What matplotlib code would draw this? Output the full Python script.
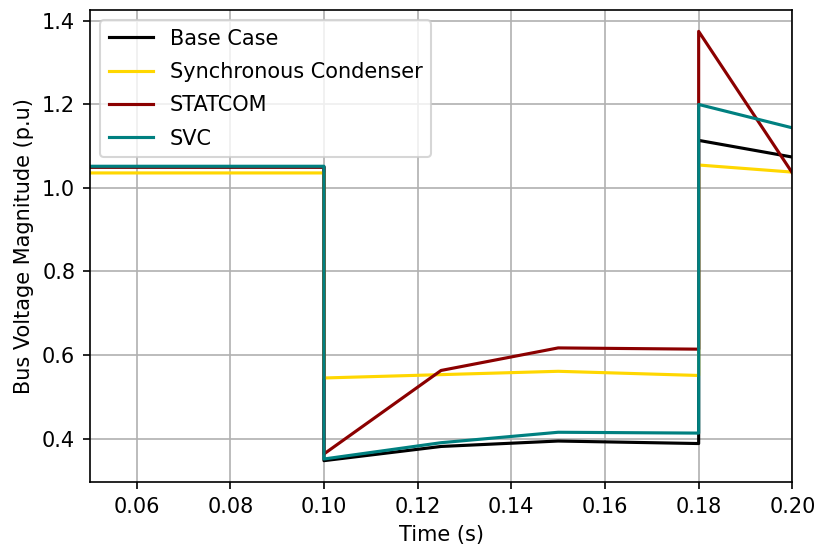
import matplotlib
matplotlib.use("Agg")
import matplotlib.pyplot as plt

# Sample instants (fault applied at 0.10 s, cleared at 0.18 s)
time = [0.05, 0.10, 0.10, 0.125, 0.15, 0.18, 0.18, 0.20]

base_case = [1.050, 1.050, 0.347, 0.381, 0.394, 0.388, 1.114, 1.074]
sync_condenser = [1.036, 1.036, 0.545, 0.553, 0.561, 0.551, 1.055, 1.038]
statcom = [1.050, 1.050, 0.363, 0.563, 0.617, 0.614, 1.375, 1.036]
svc = [1.052, 1.052, 0.351, 0.390, 0.415, 0.413, 1.200, 1.144]

series = [
    ("Base Case", base_case, "black"),
    ("Synchronous Condenser", sync_condenser, "gold"),
    ("STATCOM", statcom, "darkred"),
    ("SVC", svc, "teal"),
]

DPI = 150
fig = plt.figure(figsize=(816 / DPI, 551 / DPI), dpi=DPI)
ax = fig.add_subplot(111)
fig.subplots_adjust(left=0.110, right=0.971, top=0.982, bottom=0.125)

for label, values, color in series:
    ax.plot(time, values, color=color, label=label, linewidth=1.5)

ax.set_xlim(0.05, 0.20)
ax.set_xlabel("Time (s)")
ax.set_ylabel("Bus Voltage Magnitude (p.u)")
ax.grid(True)
ax.legend(loc="upper left", labelspacing=0.64, handlelength=2.15)

fig.savefig("out.png", dpi=DPI)
